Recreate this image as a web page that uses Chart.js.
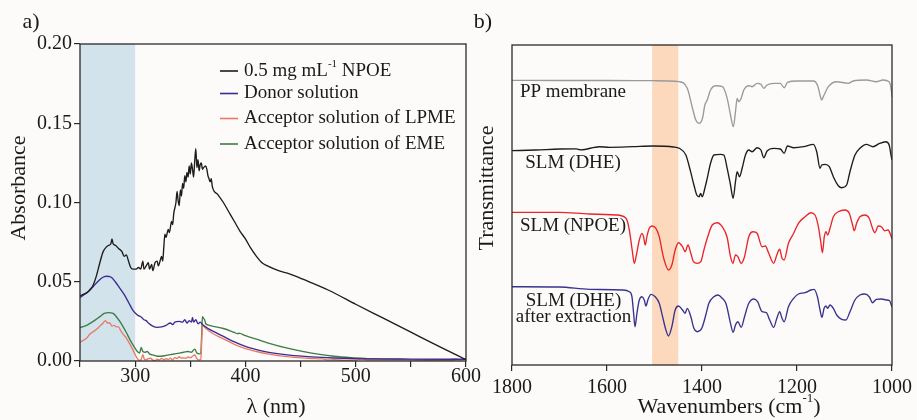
<!DOCTYPE html>
<html><head><meta charset="utf-8">
<script src="https://cdn.jsdelivr.net/npm/chart.js@4.4.1/dist/chart.umd.min.js"></script>
<style>
html,body{margin:0;padding:0;background:#fdfbfa;}
#wrap{position:relative;width:917px;height:420px;overflow:hidden;background:#fdfbfa;}
#ca{position:absolute;left:0;top:0;width:490px;height:420px;}
#cb{position:absolute;left:470px;top:0;width:447px;height:420px;}
</style></head><body>
<div id="wrap"><canvas id="ca" width="490" height="420"></canvas><canvas id="cb" width="447" height="420"></canvas></div>
<script>
// ---------- Panel a) UV-Vis absorbance ----------
const npoeX = [250,253,256,259,262,265,268,271,274,276,278,279,280,282,285,288,290,292,294,296,298,301,303,305,307,308,310,312,313,315,316,318,320,321,323,324,325,326,327,328,330,331,333,334,335,337,338,339,340,341,342,343,344,345,346,347,348,349,350,351,352,353,354,355,356,357,358,359,360,361,362,364,365,366,367,368,369,370,375,380,385,390,395,400,405,410,415,420,430,440,452,475,500,525,550,575,600];
const npoeY = [0.041,0.042,0.043,0.045,0.048,0.054,0.062,0.069,0.072,0.073,0.074,0.077,0.074,0.073,0.071,0.069,0.066,0.067,0.063,0.059,0.058,0.058,0.059,0.058,0.063,0.058,0.060,0.062,0.058,0.061,0.057,0.062,0.063,0.060,0.064,0.066,0.063,0.072,0.080,0.078,0.083,0.081,0.088,0.086,0.093,0.100,0.107,0.101,0.098,0.108,0.104,0.112,0.109,0.117,0.113,0.119,0.116,0.123,0.118,0.125,0.121,0.116,0.126,0.134,0.122,0.127,0.120,0.124,0.125,0.121,0.122,0.123,0.121,0.117,0.115,0.113,0.115,0.110,0.105,0.100,0.094,0.088,0.082,0.077,0.071,0.066,0.062,0.060,0.057,0.055,0.0516,0.0448,0.0358,0.027,0.0182,0.0094,0.0008];

const donorX = [250,254,258,262,266,270,274,278,282,286,290,294,298,302,306,308,310,312,316,320,324,328,332,334,336,340,343,345,347,349,351,352,353,355,357,359,361,365,370,380,390,400,410,420,440,460,480,500,550,600];
const donorY = [0.040,0.042,0.044,0.047,0.050,0.0525,0.0535,0.053,0.050,0.046,0.042,0.037,0.032,0.029,0.0275,0.026,0.0255,0.024,0.022,0.0212,0.0215,0.0225,0.024,0.023,0.0245,0.025,0.0245,0.026,0.024,0.0255,0.0245,0.0275,0.0245,0.026,0.0235,0.0245,0.023,0.021,0.019,0.0155,0.012,0.0092,0.0072,0.0056,0.0037,0.0026,0.0019,0.0015,0.0012,0.0011];

const lpmeX = [250,253,256,259,262,265,268,271,273,275,277,279,281,283,285,287,289,292,295,298,300,302,304,305.5,307,308.5,310,312,314,316,318,320,322,324,326,328,330,332,334,336,338,340,342,344,346,348,350,352,354,356,358,359.5,360.5,361,362,365,370,380,390,400,410,420,440,460,470,475,480,490,500,505,510,530,550,570,585,590,600];
const lpmeY = [0.0118,0.013,0.0145,0.017,0.0185,0.020,0.022,0.024,0.0255,0.024,0.024,0.022,0.0225,0.0215,0.0215,0.019,0.017,0.0145,0.011,0.007,0.004,0.0015,0.0003,0.001,0.004,0.001,0.0008,0.0015,0.0018,0.0005,0.0002,0.0012,0.0006,0.0017,0.0008,0.0014,0.0009,0.0018,0.0006,0.0022,0.0015,0.0027,0.0018,0.002,0.0017,0.0025,0.002,0.003,0.0038,0.0015,0.0006,0.001,0.015,0.0225,0.022,0.020,0.0175,0.014,0.0105,0.0078,0.006,0.0045,0.0026,0.0016,0.0013,0.0006,0.0008,0.0005,0.0006,0.0012,0.0008,0.0007,0.0008,0.0006,0.0003,0.0006,0.0012];

const emeX = [250,256,262,268,272,276,280,284,288,292,296,300,302,304,305.5,307,309,311,313,316,320,324,328,332,336,340,344,348,351,354,356,358,359.5,360.5,361,362,363,364,366,370,380,390,393,394,400,410,420,440,460,480,500,520,550,580,590,595,600];
const emeY = [0.021,0.0225,0.025,0.028,0.030,0.0305,0.030,0.027,0.023,0.018,0.0125,0.008,0.006,0.005,0.0085,0.006,0.0055,0.006,0.0045,0.0038,0.003,0.003,0.0035,0.004,0.0045,0.005,0.0055,0.006,0.0055,0.0075,0.005,0.0045,0.005,0.020,0.028,0.027,0.026,0.0235,0.0228,0.022,0.0205,0.018,0.0172,0.0176,0.016,0.0138,0.0115,0.0078,0.005,0.003,0.002,0.0013,0.0009,0.0006,0.0012,0.0009,0.0012];

const legendA = ['0.5 mg mL-1 NPOE','Donor solution','Acceptor solution of LPME','Acceptor solution of EME'];
const colorsA = ['#1c1c1c','#3b2b92','#e87a64','#3c7e46'];
const bandA = [250, 300];

// ---------- Panel b) FTIR transmittance (offset traces) ----------
const ppX = [1800,1700,1600,1500,1448,1431,1420,1413,1406,1399,1394,1389,1382,1371,1357,1347,1340,1334,1329.5,1326,1322.5,1317.5,1312,1301.5,1294.5,1284,1276,1270,1263,1249,1235,1227,1220,1200,1165.5,1156.5,1151.5,1148,1143,1134,1117,1092,1082,1054,1033,1019,1006,1001,1000];
const ppY = [284.7,284.5,284.5,284.3,283.3,276.7,256.7,245,241.7,246.7,260,265,275,279.3,278.3,266.7,250,238.3,253.3,266.7,263.3,266.7,275,279.3,278.3,281.7,280.7,276.7,280,281.7,281.7,277.3,282.7,284,284,279.3,270,265,270,278.3,283.3,281.7,284,285,283.3,285,283.3,273.3,268];

const dheX = [1800,1750,1700,1665,1655,1616,1595,1546,1504,1460,1448,1434,1424,1417,1411,1406,1403,1399.5,1394,1389,1382,1375,1361,1354,1347,1340,1334.5,1329.5,1326,1321,1315.5,1308.5,1301.5,1294.5,1284,1276,1270,1263,1249,1235,1227,1220,1207,1186,1165.5,1158.5,1151.5,1148,1141,1132,1123.5,1113,1106,1095.5,1088.5,1078,1067.5,1054,1040,1026,1013,1006,1001.5,1000];
const dheY = [214.3,215,216,216.2,215.2,218.3,217.7,218.3,219,218,216.7,210,193.3,180,170,168.3,171.7,168.3,176.7,186.7,201.7,210,210.7,210,196.7,180,166.7,183.3,193.3,188.3,196.7,210,215,213.3,217.3,215,207.3,214,216.7,216,211.7,219,217.3,218.3,220.7,213.3,196.7,200,200.7,198.3,188.3,179.3,177.3,180,193.3,210,216.7,220.7,218.3,221.7,223.3,220,208.3,205];

const irNpoeX = [1800,1700,1637,1581,1560,1553,1547,1542.5,1537.5,1532,1526.5,1523,1519.5,1516,1511,1505.5,1497,1490,1483,1477.5,1470.5,1463.5,1456.5,1449.5,1441,1435.5,1429.5,1423.5,1418,1410,1402.5,1396,1389,1378.5,1368,1357.5,1347,1340,1335,1329.5,1324.5,1317.5,1310.5,1301.5,1292.5,1284,1273.5,1266.5,1259.5,1249,1242.5,1236.5,1231.5,1227,1218,1207,1197,1183,1171,1162,1155,1150,1146.5,1142.5,1139,1135.5,1130.5,1123.5,1113,1099,1090,1083,1079.5,1074.5,1067.5,1057,1048,1041,1036,1029,1022.5,1015.5,1008.5,1001.5,1000];
const irNpoeY = [152.7,152.7,151,150,146.7,135,115,101.7,111.7,125,131.7,128.3,120,128.3,136.7,139,136.7,128.3,111.7,101.7,95,100,115,122.3,118.3,113.3,120,111.7,103.3,101.7,103.3,115,126.7,140,142.3,138.3,127.5,108.3,101.7,110,108.3,101.7,108.3,128.3,133.3,131.7,118.3,119,111.7,101.7,110,115.7,106.7,105,121.7,131.7,141.7,148.3,152.3,150,138.3,123.3,112.3,128.3,133.3,130,136.7,148.3,153.3,155,151.7,140,134.3,141.7,148.3,150,146.7,136.7,132.3,139,138.3,134.3,135,128.3,126];

const extX = [1800,1700,1637,1567,1553,1547.5,1544,1541,1537,1532,1526.5,1521.5,1518,1514,1507.5,1498.5,1490,1483,1476,1470.5,1463.5,1456.5,1449.5,1441,1435.5,1431,1423.5,1417,1410,1400.5,1392,1385.5,1375,1366,1357.5,1350,1347,1340,1334.5,1329.5,1324.5,1317.5,1310.5,1301.5,1291,1283,1273.5,1264.5,1257.5,1249,1242.5,1236.5,1231.5,1227,1218,1207,1197,1183,1171,1164,1157,1151.5,1147.5,1143,1139,1135.5,1130.5,1123.5,1116.5,1106,1097,1088.5,1078,1067.5,1057,1048,1041,1033,1022.5,1012,1005,1001.5,1000];
const extY = [78.3,78,75.7,75,73.3,68.3,51.7,38.3,51.7,65,68.3,65,59,65,70.7,68.3,61.7,48.3,35,29,38.3,55,59,55,51.7,56.7,48.3,36.7,33.3,36.7,50,61.7,68.3,70,66.7,62,57,41.7,32.7,40,43.3,37.7,48.3,61.7,66,63.3,53.3,52.3,45,37.7,46.7,53.3,46.7,43.3,58.3,66.7,71,72.3,75,75.7,68.3,55,47.7,56.7,59,56.7,60,56.7,50,45.7,45,53.3,65,70,71,68.3,62.3,65.7,66,65,64.3,60,58];

const labelsB = ['PP membrane','SLM (DHE)','SLM (NPOE)','SLM (DHE)\nafter extraction'];
const colorsB = ['#9a9a9a','#1c1c1c','#e8262a','#38338f'];
const bandB = [1505, 1450];

// ---------- helpers ----------
const FONT = "'Liberation Serif','Times New Roman',serif";
Chart.defaults.font.family = FONT;
Chart.defaults.color = '#1a1a1a';
const xy = (xs, ys) => xs.map((x, i) => ({x, y: ys[i]}));

function richParts(text, size) {
  const out = [];
  text.split(/(-1)/).forEach(s => {
    if (!s) return;
    if (s === '-1') out.push({t: s, size: Math.round(size * 0.58), rise: size * 0.38});
    else out.push({t: s, size});
  });
  return out;
}
function drawRich(ctx, it) {
  const parts = richParts(it.text, it.size);
  ctx.save();
  ctx.translate(it.x, it.y);
  if (it.rot) ctx.rotate(it.rot);
  let total = 0;
  parts.forEach(p => { ctx.font = p.size + 'px ' + FONT; p.w = ctx.measureText(p.t).width; total += p.w; });
  let x = it.align === 'left' ? 0 : -total / 2;
  ctx.textBaseline = 'middle';
  ctx.textAlign = 'left';
  ctx.fillStyle = it.color || '#1a1a1a';
  parts.forEach(p => { ctx.font = p.size + 'px ' + FONT; ctx.fillText(p.t, x, -(p.rise || 0)); x += p.w; });
  ctx.restore();
}

const panelPlugin = {
  id: 'panel',
  beforeDatasetsDraw(chart, args, o) {
    const {ctx, chartArea: a} = chart;
    const xs = chart.scales.x;
    if (o.band) {
      const x1 = xs.getPixelForValue(o.band[0]), x2 = xs.getPixelForValue(o.band[1]);
      ctx.save();
      ctx.fillStyle = o.bandColor;
      ctx.fillRect(Math.min(x1, x2), a.top, Math.abs(x2 - x1), a.bottom - a.top);
      ctx.restore();
    }
  },
  afterDraw(chart, args, o) {
    const {ctx, chartArea: a} = chart;
    ctx.save();
    ctx.strokeStyle = '#2a2a2a';
    ctx.lineWidth = 1.3;
    ctx.strokeRect(a.left, a.top, a.right - a.left, a.bottom - a.top);
    ctx.restore();
    (o.texts || []).forEach(t => drawRich(ctx, t));
    if (o.legend) {
      const L = o.legend;
      chart.data.datasets.forEach((ds, i) => {
        const y = L.rows[i];
        ctx.save();
        ctx.strokeStyle = ds.borderColor;
        ctx.lineWidth = 1.6;
        ctx.beginPath(); ctx.moveTo(L.x0, y); ctx.lineTo(L.x1, y); ctx.stroke();
        ctx.restore();
        drawRich(ctx, {text: ds.label, x: L.tx, y, size: L.size, align: 'left'});
      });
    }
    if (o.traceLabels) {
      o.traceLabels.forEach((tl, i) => {
        chart.data.datasets[i].label.split('\n').forEach((line, k) => {
          drawRich(ctx, {text: line, x: tl.x, y: tl.y[k], size: tl.size});
        });
      });
    }
  }
};

const lineDs = (label, xs, ys, color) => ({
  label, data: xy(xs, ys), borderColor: color, backgroundColor: color,
  borderWidth: 1.35, pointRadius: 0, fill: false, cubicInterpolationMode: 'monotone'
});

// ---------- Chart a ----------
new Chart(document.getElementById('ca'), {
  type: 'line',
  data: {datasets: [
    lineDs(legendA[0], npoeX, npoeY, colorsA[0]),
    lineDs(legendA[1], donorX, donorY, colorsA[1]),
    lineDs(legendA[2], lpmeX, lpmeY, colorsA[2]),
    lineDs(legendA[3], emeX, emeY, colorsA[3])
  ]},
  options: {
    responsive: false, animation: false, devicePixelRatio: 1,
    layout: {autoPadding: false, padding: {left: 0, top: 44, right: 24, bottom: 0}},
    plugins: {
      legend: {display: false}, tooltip: {enabled: false},
      panel: {
        band: bandA, bandColor: '#d3e3ec',
        texts: [
          {text: 'a)', x: 31, y: 22, size: 22},
          {text: 'Absorbance', x: 19, y: 188, size: 22, rot: -Math.PI / 2},
          {text: 'λ (nm)', x: 276, y: 407, size: 22}
        ],
        legend: {x0: 220, x1: 238, tx: 244, rows: [71, 93.5, 118.5, 144], size: 19}
      }
    },
    scales: {
      x: {
        type: 'linear', min: 250, max: 600,
        afterFit: s => { s.height = 59; },
        ticks: {stepSize: 50, autoSkip: false, maxRotation: 0, padding: 0,
          font: {size: 20, lineHeight: 0.95}, color: '#1a1a1a',
          callback: v => (v % 100 === 0 ? String(v) : '')},
        grid: {drawOnChartArea: false, drawTicks: true, tickLength: 6, color: '#2a2a2a', lineWidth: 1.2},
        border: {display: false}
      },
      y: {
        min: 0, max: 0.2,
        afterFit: s => { s.width = 80; },
        ticks: {stepSize: 0.05, padding: 2, font: {size: 20}, color: '#1a1a1a', callback: v => Number(v).toFixed(2)},
        grid: {drawOnChartArea: false, drawTicks: true, tickLength: 6, color: '#2a2a2a', lineWidth: 1.2},
        border: {display: false}
      }
    }
  },
  plugins: [panelPlugin]
});

// ---------- Chart b ----------
new Chart(document.getElementById('cb'), {
  type: 'line',
  data: {datasets: [
    lineDs(labelsB[0], ppX, ppY, colorsB[0]),
    lineDs(labelsB[1], dheX, dheY, colorsB[1]),
    lineDs(labelsB[2], irNpoeX, irNpoeY, colorsB[2]),
    lineDs(labelsB[3], extX, extY, colorsB[3])
  ]},
  options: {
    responsive: false, animation: false, devicePixelRatio: 1,
    layout: {autoPadding: false, padding: {left: 0, top: 45, right: 23, bottom: 0}},
    plugins: {
      legend: {display: false}, tooltip: {enabled: false},
      panel: {
        band: bandB, bandColor: '#fcd9bc',
        texts: [
          {text: 'b)', x: 13, y: 22, size: 22},
          {text: 'Transmittance', x: 17, y: 188, size: 22, rot: -Math.PI / 2},
          {text: 'Wavenumbers (cm-1)', x: 259, y: 407, size: 22}
        ],
        traceLabels: [
          {x: 103, y: [92.3], size: 19},
          {x: 103, y: [163.3], size: 19},
          {x: 103, y: [226], size: 19},
          {x: 103.5, y: [301, 316.7], size: 19}
        ]
      }
    },
    scales: {
      x: {
        type: 'linear', reverse: true, min: 1000, max: 1800,
        afterFit: s => { s.height = 55; },
        ticks: {stepSize: 200, autoSkip: false, maxRotation: 0, padding: 5,
          font: {size: 20}, color: '#1a1a1a', callback: v => String(v)},
        grid: {drawOnChartArea: false, drawTicks: true, tickLength: 6, color: '#2a2a2a', lineWidth: 1.2},
        border: {display: false}
      },
      y: {
        min: 0, max: 320,
        afterFit: s => { s.width = 42; },
        ticks: {display: false},
        grid: {display: false},
        border: {display: false}
      }
    }
  },
  plugins: [panelPlugin]
});
</script>
</body></html>
